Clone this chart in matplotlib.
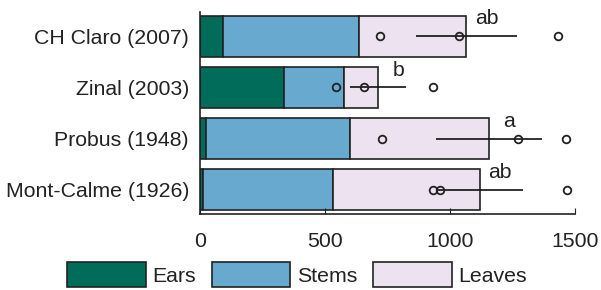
import numpy as np
import matplotlib
matplotlib.use('Agg')
import matplotlib.pyplot as plt

plt.rcParams['font.family'] = ['Liberation Sans', 'DejaVu Sans']
plt.rcParams['text.color'] = '#222222'
plt.rcParams['xtick.color'] = '#222222'
plt.rcParams['ytick.color'] = '#222222'

# data (bottom to top)
cultivars = ['Mont-Calme (1926)', 'Probus (1948)', 'Zinal (2003)', 'CH Claro (2007)']
ears = [13, 23, 335, 93]
stems = [520, 577, 241, 543]
leaves = [586, 555, 135, 429]
err = [172, 211, 113, 201]
letters = ['ab', 'a', 'b', 'ab']
points = [[933, 960, 1467], [728, 1272, 1463], [544, 656, 932], [720, 1037, 1433]]

colors = ['#016c59', '#67a9cf', '#ece2f0']

fig = plt.figure(figsize=(6.01, 2.90), dpi=100)
ax = fig.add_axes([0.333, 0.262, 0.624, 0.698])

y = np.arange(len(cultivars))
ears = np.array(ears)
stems = np.array(stems)
leaves = np.array(leaves)
total = ears + stems + leaves

kw = dict(height=0.8, edgecolor='#222222', linewidth=1.2)
ax.barh(y, ears, color=colors[0], label='Ears', **kw)
ax.barh(y, stems, left=ears, color=colors[1], label='Stems', **kw)
ax.barh(y, leaves, left=ears + stems, color=colors[2], label='Leaves', **kw)

ax.errorbar(total, y, xerr=err, fmt='none', ecolor='#111111', elinewidth=1.2, capsize=0)
for i, pts in enumerate(points):
    ax.plot(pts, [y[i]] * len(pts), 'o', mfc='none', mec='#222222', mew=1.3, ms=5.5)
    ax.text(total[i] + 81, y[i] + 0.23, letters[i], ha='center', va='baseline', fontsize=15.3)

ax.set_xlim(0, 1500)
ax.set_ylim(-0.475, 3.48)
ax.set_xticks([0, 500, 1000, 1500])
ax.set_yticks(y)
ax.set_yticklabels(cultivars)
ax.tick_params(axis='x', direction='in', length=4, labelsize=15.3, pad=13)
ax.tick_params(axis='y', length=0, labelsize=15.3, pad=8)
for s in ['top', 'right']:
    ax.spines[s].set_visible(False)
for s in ['left', 'bottom']:
    ax.spines[s].set_linewidth(1.2)
    ax.spines[s].set_color('#222222')

fig.legend(loc='lower left', bbox_to_anchor=(0.08, -0.055), ncol=3, frameon=False,
           fontsize=15.3, handlelength=3.7, handleheight=1.4, handletextpad=0.3,
           columnspacing=0.75)

fig.savefig('out.png', dpi=100)
